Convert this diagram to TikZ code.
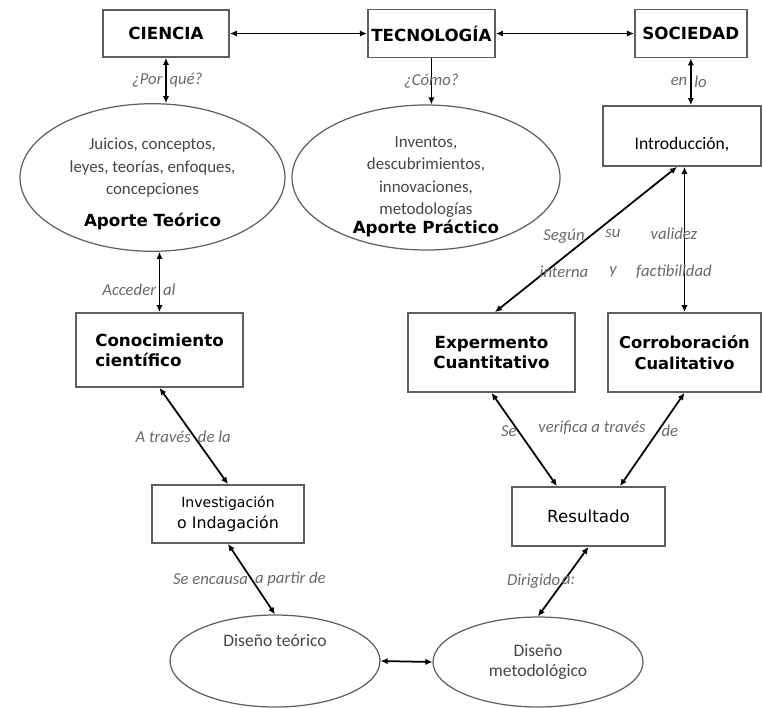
\documentclass[tikz,border=0pt]{standalone}
\usepackage{fontspec}
\setmainfont{Carlito}
\newfontfamily\headfont{DejaVu Sans}
\usepackage{tikz}
\usetikzlibrary{shapes.geometric, arrows.meta, positioning}
\definecolor{framegray}{RGB}{95, 95, 95}
\definecolor{labelgray}{RGB}{105, 105, 105}
\definecolor{textgray}{RGB}{70, 70, 70}

\begin{document}
\begin{tikzpicture}[
  >={Latex[length=4pt,width=3.6pt]},
  box/.style      = {rectangle, draw=framegray, line width=1pt, fill=white,
                     align=center, inner sep=2pt},
  headbox/.style  = {box, font=\headfont\bfseries\fontsize{9.5}{11.5}\selectfont},
  plainbox/.style = {box, font=\headfont\fontsize{8}{12}\selectfont},
  oval/.style     = {ellipse, draw=framegray, line width=0.7pt, align=center,
                     inner sep=0pt, text=textgray, font=\fontsize{9.6}{12.8}\selectfont},
  lbl/.style      = {font=\fontsize{9.5}{11}\selectfont\itshape, text=labelgray,
                     inner sep=1.5pt},
  dblarrow/.style = {<->, line width=1pt},
  arrow/.style    = {->, line width=1pt}
]
\useasboundingbox (0,0) rectangle (15.24,-14.14);

%% Top row
\node[headbox, minimum width=2.52cm, minimum height=0.94cm] (ciencia) at (3.32,-0.67) {CIENCIA};
\node[headbox, minimum width=2.52cm, minimum height=0.96cm, right=2.74cm of ciencia] (tecno) {TECNOLOGÍA};
\node[headbox, minimum width=2.24cm, minimum height=0.96cm, right=2.76cm of tecno] (sociedad) {SOCIEDAD};

%% Aportes
\node[oval, minimum width=5.3cm, minimum height=2.9cm] (teorico) at (3.05,-3.55)
  {\rule{0pt}{14pt}Juicios, conceptos,\\ leyes, teorías, enfoques,\\ concepciones\\[5pt]
   {\color{black}\headfont\bfseries\fontsize{9.5}{10}\selectfont Aporte Teórico}};
\node[oval, inner sep=-6pt, minimum width=5.36cm, minimum height=2.9cm] (practico) at (8.52,-3.55)
  {\rule{0pt}{17pt}Inventos,\\ descubrimientos,\\ innovaciones,\\ metodologías\\[-2pt]
   {\color{black}\headfont\bfseries\fontsize{9.5}{10}\selectfont Aporte Práctico}};
\node[box, minimum width=3.16cm, minimum height=1.2cm, font=\fontsize{10}{12}\selectfont,
  text height=0.59cm, text depth=0.07cm] (intro) at (13.64,-2.72) {Introducción,};

%% Middle row
\node[headbox, align=left, minimum width=3.34cm, minimum height=1.48cm] (conoc) at (3.19,-7.0)
  {Conocimiento\\ científico};
\node[headbox, minimum width=3.34cm, minimum height=1.58cm] (experm) at (9.83,-7.05)
  {Expermento\\ Cuantitativo};
\node[headbox, font=\headfont\bfseries\fontsize{9.3}{11.5}\selectfont,
  minimum width=3.06cm, minimum height=1.58cm] (corrob) at (13.69,-7.05)
  {Corroboración\\ Cualitativo};

%% Lower row
\node[plainbox, minimum width=3.04cm, minimum height=1.16cm] (invest) at (4.56,-10.28)
  {Investigación\\ {\fontsize{9}{12}\selectfont o Indagación}};
\node[plainbox, font=\headfont\fontsize{9.5}{11}\selectfont,
  minimum width=3.06cm, minimum height=1.18cm] (result) at (11.77,-10.33) {Resultado};

%% Disenos
\node[oval, minimum width=4.2cm, minimum height=1.84cm, font=\fontsize{10}{11}\selectfont,
  text height=0.2cm, text depth=0.8cm] (disteo) at (5.5,-13.22) {Diseño teórico};
\node[oval, minimum width=4.2cm, minimum height=1.8cm, font=\fontsize{10}{11.5}\selectfont]
  (dismet) at (10.76,-13.24) {Diseño\\ metodológico};

%% Arrows
\draw[dblarrow] (ciencia.east) -- (tecno.west);
\draw[dblarrow] (tecno.east) -- (sociedad.west);
\draw[dblarrow] (ciencia.south) -- (ciencia.south |- teorico.north)
  node[lbl, midway, left] {¿Por} node[lbl, midway, right] {qué?};
\draw[arrow] (tecno.south) -- (tecno.south |- practico.north)
  node[lbl, midway] {¿Cómo?};
\draw[dblarrow] (sociedad.south) -- (sociedad.south |- intro.north)
  node[lbl, midway, left] {en} node[lbl, midway, right] {lo};
\draw[dblarrow] (conoc.north |- teorico.south) -- (conoc.north)
  node[lbl, pos=0.63, left] {Acceder} node[lbl, pos=0.63, right] {al};
\draw[dblarrow] ([xshift=-0.1cm]intro.south) -- ([xshift=0.07cm]experm.north);
\draw[dblarrow] (corrob.north |- intro.south) -- (corrob.north);
\draw[dblarrow] (conoc.south) -- (invest.north)
  node[lbl, pos=0.51, left] {A través} node[lbl, pos=0.51, right] {de la};
\draw[dblarrow] (experm.south) -- ([xshift=-0.63cm]result.north)
  node[lbl, pos=0.41, left, inner sep=0.5pt] {Se};
\draw[dblarrow] (corrob.south) -- ([xshift=0.63cm]result.north)
  node[lbl, pos=0.41, right] {de};
\draw[dblarrow] (invest.south) -- (disteo.north)
  node[lbl, midway, left] {Se encausa} node[lbl, midway, right] {a partir de};
\draw[dblarrow] (result.south) -- (dismet.north)
  node[lbl, pos=0.49, left] {Dirigido} node[lbl, pos=0.49, right, xshift=-3pt] {a:};
\draw[dblarrow] (disteo.east) -- (dismet.west);

%% Labels
\node[lbl] (verifica) at (11.84,-8.56) {verifica a través};
\node[lbl, align=center] (segun) at (11.28,-5.07) {Según\\[10pt] interna};
\node[lbl, align=center] (su) at (12.26,-5.07) {su\\[10pt] y};
\node[lbl, align=center] (validez) at (13.48,-5.07) {validez\\[10pt] factibilidad};

\end{tikzpicture}
\end{document}
